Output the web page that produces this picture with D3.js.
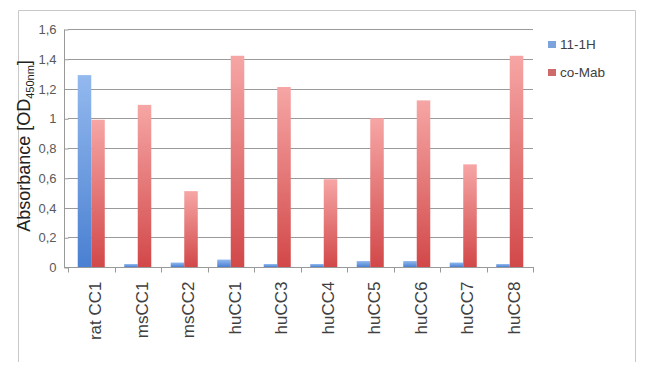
<!DOCTYPE html>
<html>
<head>
<meta charset="utf-8">
<script src="https://cdn.jsdelivr.net/npm/d3@7"></script>
<style>
  body { margin: 0; background: #fff; }
  text { font-family: "Liberation Sans", Arial, sans-serif; }
</style>
</head>
<body>
<svg id="drawing_region"></svg>
<script>
const categories = ["rat CC1", "msCC1", "msCC2", "huCC1", "huCC3", "huCC4", "huCC5", "huCC6", "huCC7", "huCC8"];
const seriesNames = ["11-1H", "co-Mab"];
const values_11_1H = [1.29, 0.02, 0.03, 0.05, 0.02, 0.02, 0.04, 0.04, 0.03, 0.02];
const values_coMab = [0.99, 1.09, 0.51, 1.42, 1.21, 0.59, 1.00, 1.12, 0.69, 1.42];
const yTicks = [0, 0.2, 0.4, 0.6, 0.8, 1, 1.2, 1.4, 1.6];

const data = categories.map((c, i) => ({
    cat: c,
    vals: [ {key: seriesNames[0], v: values_11_1H[i]}, {key: seriesNames[1], v: values_coMab[i]} ]
}));

class GroupedBar {
    constructor( config, data ) {
        this.config = config;
        this.data = data;
        this.init();
    }

    init() {
        let self = this;
        self.svg = d3.select( self.config.parent )
            .attr('width', self.config.width)
            .attr('height', self.config.height);

        const defs = self.svg.append('defs');
        const grads = [
            {id: 'g0', top: '#93b9ee', bottom: '#4a80d2'},
            {id: 'g1', top: '#f6a6a5', bottom: '#d24849'}
        ];
        grads.forEach(g => {
            const lg = defs.append('linearGradient').attr('id', g.id)
                .attr('x1', 0).attr('y1', 0).attr('x2', 0).attr('y2', 1);
            lg.append('stop').attr('offset', '0%').attr('stop-color', g.top);
            lg.append('stop').attr('offset', '100%').attr('stop-color', g.bottom);
        });

        // outer frame
        self.svg.append('path')
            .attr('d', 'M18.5,362V10.5H635.5V362')
            .attr('fill', 'none')
            .attr('stroke', '#c8c8c8');

        self.xscale = d3.scaleBand()
            .domain( categories )
            .range( [68, 533] );
        self.x1 = d3.scaleBand()
            .domain( seriesNames )
            .range( [0, self.xscale.bandwidth()] )
            .paddingOuter(0.72);
        self.yscale = d3.scaleLinear()
            .domain( [0, 1.6] )
            .range( [267, 29] );
    }

    render() {
        let self = this;

        // grid
        self.svg.append('g')
            .selectAll('line')
            .data(yTicks.slice(1))
            .join('line')
            .attr('x1', 68).attr('x2', 533)
            .attr('y1', d => Math.round(self.yscale(d)) + 0.5)
            .attr('y2', d => Math.round(self.yscale(d)) + 0.5)
            .attr('stroke', '#9a9a9a');

        // y axis
        const yaxis = d3.axisLeft( self.yscale )
            .tickValues( yTicks )
            .tickSize(4)
            .tickPadding(8)
            .tickFormat( d => d3.format('~g')(d).replace('.', ',') );
        const yg = self.svg.append('g')
            .attr('transform', 'translate(68.5,0.5)')
            .call( yaxis );
        yg.select('.domain').attr('stroke', '#999').attr('d', 'M-4,29V266.5');
        yg.selectAll('.tick line').attr('stroke', '#999');
        yg.selectAll('.tick text')
            .attr('font-size', '13px')
            .attr('fill', '#595959')
            .attr('font-family', '"Liberation Sans", Arial, sans-serif');

        // bars
        self.svg.append('g')
            .selectAll('g')
            .data(self.data)
            .join('g')
            .attr('transform', d => `translate(${self.xscale(d.cat)},0)`)
            .selectAll('rect')
            .data(d => d.vals)
            .join('rect')
            .attr('x', d => self.x1(d.key))
            .attr('width', self.x1.bandwidth())
            .attr('y', d => self.yscale(d.v))
            .attr('height', d => self.yscale(0) - self.yscale(d.v))
            .attr('fill', (d, i) => `url(#g${i})`);

        // x axis
        const xg = self.svg.append('g')
            .attr('transform', 'translate(0,267.5)');
        xg.append('line')
            .attr('x1', 64).attr('x2', 534)
            .attr('stroke', '#999');
        xg.selectAll('.tk')
            .data(categories.concat(['end']))
            .join('line')
            .attr('class', 'tk')
            .attr('x1', (d, i) => Math.round(68 + i * self.xscale.step()) + 0.5)
            .attr('x2', (d, i) => Math.round(68 + i * self.xscale.step()) + 0.5)
            .attr('y1', 0).attr('y2', 5)
            .attr('stroke', '#999');
        xg.selectAll('.lbl')
            .data(categories)
            .join('text')
            .attr('class', 'lbl')
            .attr('transform', d => `translate(${self.xscale(d) + self.xscale.bandwidth() / 2 + 10},14) rotate(-90)`)
            .attr('text-anchor', 'end')
            .attr('font-size', '17px')
            .attr('fill', '#404040')
            .text(d => d);

        // y title
        const yt = self.svg.append('text')
            .attr('transform', 'translate(30,146) rotate(-90)')
            .attr('text-anchor', 'middle')
            .attr('font-size', '18px')
            .attr('fill', '#222');
        yt.append('tspan').text('Absorbance [OD');
        yt.append('tspan').attr('font-size', '11px').attr('dy', 4).text('450nm');
        yt.append('tspan').attr('dy', -4).text(']');

        // legend
        const lg = self.svg.append('g')
            .selectAll('g')
            .data(seriesNames)
            .join('g')
            .attr('transform', (d, i) => `translate(548,${41 + i * 28})`);
        lg.append('rect')
            .attr('width', 8).attr('height', 7)
            .attr('fill', (d, i) => i === 0 ? '#7da3dc' : '#cf6a6a');
        lg.append('text')
            .attr('x', 12).attr('y', 8)
            .attr('font-size', '13.5px')
            .attr('fill', '#404040')
            .text(d => d);
    }
}

const chart = new GroupedBar( {parent: '#drawing_region', width: 650, height: 369}, data );
chart.render();
</script>
</body>
</html>
